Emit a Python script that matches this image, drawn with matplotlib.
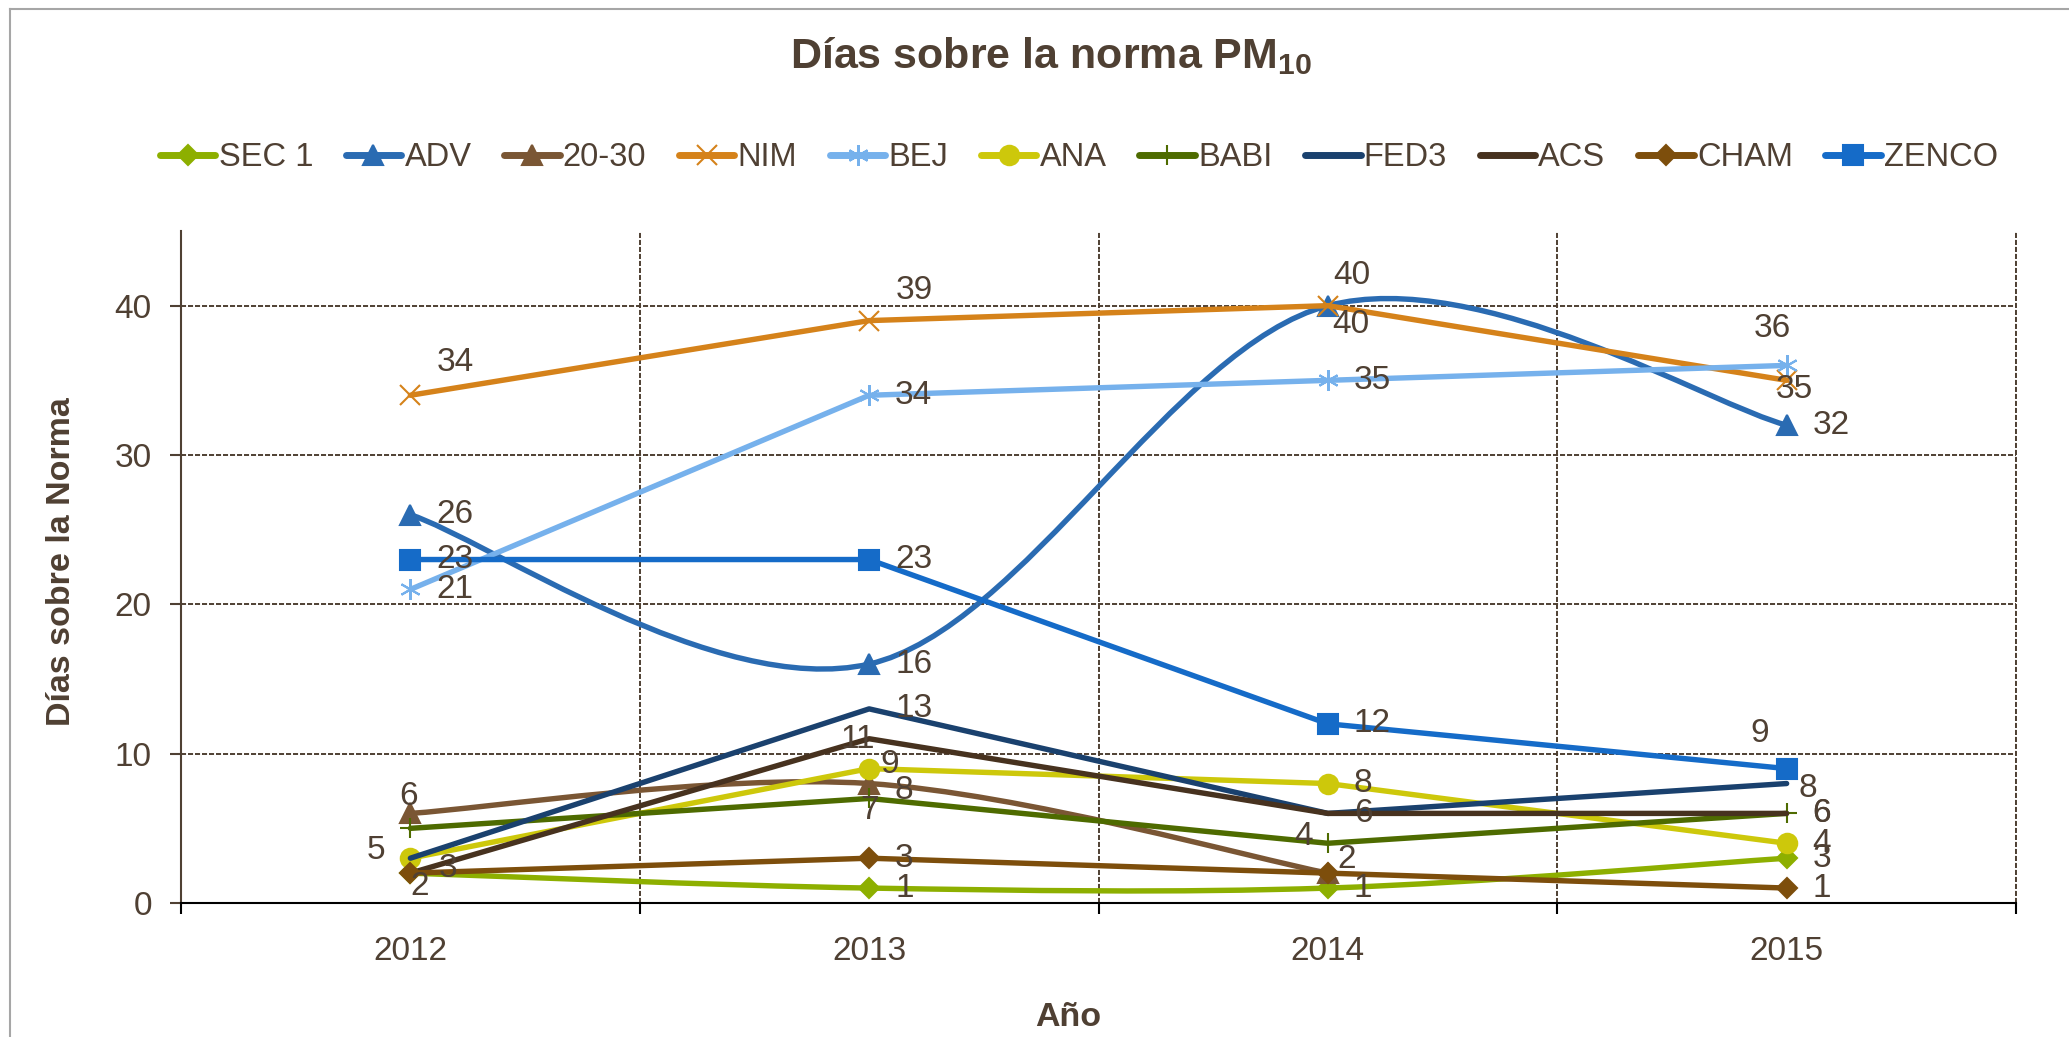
import numpy as np
import matplotlib
matplotlib.use('Agg')
import matplotlib.pyplot as plt
from matplotlib.path import Path
from matplotlib.patches import PathPatch
from matplotlib.lines import Line2D

plt.rcParams['font.family'] = ['Liberation Sans', 'DejaVu Sans']
plt.rcParams['mathtext.fontset'] = 'custom'
plt.rcParams['mathtext.rm'] = 'Liberation Sans'
plt.rcParams['mathtext.bf'] = 'Liberation Sans:bold'

# data
years = ['2012', '2013', '2014', '2015']
series_names = ['SEC 1', 'ADV', '20-30', 'NIM', 'BEJ', 'ANA', 'BABI', 'FED3', 'ACS', 'CHAM', 'ZENCO']
sec1 = [2, 1, 1, 3]
adv = [26, 16, 40, 32]
t2030 = [6, 8, 2, np.nan]
nim = [34, 39, 40, 35]
bej = [21, 34, 35, 36]
ana = [3, 9, 8, 4]
babi = [5, 7, 4, 6]
fed3 = [3, 13, 6, 8]
acs = [2, 11, 6, 6]
cham = [2, 3, 2, 1]
zenco = [23, 23, 12, 9]
values = [sec1, adv, t2030, nim, bej, ana, babi, fed3, acs, cham, zenco]

# style per series: colour, marker, marker size, smoothed line
styles = {
    'SEC 1': ('#8DAF00', 'D', 10, True),
    'ADV':   ('#2A6BB2', '^', 14, True),
    '20-30': ('#7A5634', '^', 14, True),
    'NIM':   ('#D5821A', 'x', 14, False),
    'BEJ':   ('#76B1EC', (6, 2, 0), 15, False),
    'ANA':   ('#CDC80B', 'o', 14, False),
    'BABI':  ('#4E6B00', '+', 14, False),
    'FED3':  ('#1A416E', None, 0, False),
    'ACS':   ('#47321F', None, 0, False),
    'CHAM':  ('#7D4E0C', 'D', 10, False),
    'ZENCO': ('#156BC8', 's', 14, False),
}

# data label placement (pixels, dx, dy up); 'r' = right of point, None = hidden
R = 'r'
label_pos = {
    'SEC 1': [(9, -13), R, R, R],
    'ADV':   [R, R, (23, -19), R],
    '20-30': [(-2, 17), (35, -7), (19, 14), None],
    'NIM':   [(45, 33), (45, 30), (24, 30), (8, -9)],
    'BEJ':   [R, R, R, (-14, 37)],
    'ANA':   [(38, -10), (21, 4), R, R],
    'BABI':  [(-34, -22), (0, -12), (-24, 7), R],
    'FED3':  [None, R, None, (21, -5)],
    'ACS':   [None, (-11, -1), R, R],
    'CHAM':  [None, R, None, R],
    'ZENCO': [R, R, R, (-27, 35)],
}

txt = '#4F4033'
dash = (0, (2.6, 1.0))
fig = plt.figure(figsize=(20.69, 10.37), dpi=100)
ax = fig.add_axes([181/2069, 1-903/1037, (2016-181)/2069, (903-231)/1037])


def smooth_path(x, y):
    # bezier through the points, same idea as the spreadsheet "smoothed line"
    pts = np.column_stack([x, y])
    n = len(pts)
    verts = [pts[0]]
    codes = [Path.MOVETO]
    for i in range(n - 1):
        p0 = pts[i - 1] if i > 0 else pts[i]
        p3 = pts[i + 2] if i + 2 < n else pts[i + 1]
        c1 = pts[i] + (pts[i + 1] - p0) / 6
        c2 = pts[i + 1] - (p3 - pts[i]) / 6
        verts += [c1, c2, pts[i + 1]]
        codes += [Path.CURVE4] * 3
    return Path(verts, codes)


x = np.arange(len(years))
handles = []
for k, (name, vals) in enumerate(zip(series_names, values)):
    col, mk, ms, smooth = styles[name]
    v = np.array(vals, dtype=float)
    ok = ~np.isnan(v)
    z = 3 + k * 0.1
    if smooth:
        ax.add_patch(PathPatch(smooth_path(x[ok], v[ok]), fill=False, edgecolor=col,
                               lw=3.9, zorder=z, capstyle='round', joinstyle='round'))
        ax.plot(x[ok], v[ok], ls='none', marker=mk, ms=ms, color=col, mew=1.5, zorder=z)
    else:
        ax.plot(x[ok], v[ok], ls='-', lw=3.9, marker=mk, ms=ms, color=col, mew=1.5,
                zorder=z, solid_capstyle='round')
    handles.append(Line2D([], [], color=col, lw=5, marker=mk, ms=ms, mew=1.5,
                          solid_capstyle='round', label=name))

    for i, val in enumerate(v):
        pos = label_pos[name][i]
        if pos is None or np.isnan(val):
            continue
        if pos == R:
            dx, dy, ha = 26, 0, 'left'
        else:
            dx, dy, ha = pos[0], pos[1], 'center'
        ax.annotate(f'{int(val)}', (i, val), xytext=(dx, dy), textcoords='offset pixels',
                    ha=ha, va='center', fontsize=24, color=txt, zorder=10)

ax.set_xlim(-0.5, 3.5)
ax.set_ylim(0, 45)
ax.set_xticks(x)
ax.set_xticklabels(years)
ax.set_xticks(np.arange(-0.5, 3.6, 1), minor=True)
ax.set_yticks([0, 10, 20, 30, 40])
ax.tick_params(axis='x', which='major', length=0, pad=24, labelsize=24, labelcolor=txt)
ax.tick_params(axis='x', which='minor', length=8, width=1.5, color='black', direction='out')
ax.tick_params(axis='y', length=8, width=1.5, color=txt, pad=13, labelsize=24, labelcolor=txt)
ax.grid(axis='x', which='minor', ls=dash, color=txt, lw=1.4)
ax.grid(axis='y', which='major', ls=dash, color=txt, lw=1.4)
ax.grid(axis='x', which='major', visible=False)
ax.axvline(3.5, ls=dash, color=txt, lw=1.4, clip_on=False, zorder=1)
for s in ['top', 'right']:
    ax.spines[s].set_visible(False)
ax.spines['left'].set_color(txt)
ax.spines['left'].set_linewidth(1.5)
ax.spines['bottom'].set_color('black')
ax.spines['bottom'].set_linewidth(1.5)
ax.spines['bottom'].set_zorder(20)

fig.text(1051/2069, 1-68/1037, r'Días sobre la norma PM$_{\mathbf{10}}$', ha='center',
         va='baseline', fontsize=31, fontweight='bold', color=txt)
fig.text(62/2069, 1-562/1037, 'Días sobre la Norma', rotation=90, ha='center', va='center',
         fontsize=24.5, fontweight='bold', color=txt)
fig.text(1068/2069, 1-1018/1037, 'Año', ha='center', va='center', fontsize=24.5,
         fontweight='bold', color=txt)

fig.legend(handles=handles, loc='center', bbox_to_anchor=(1079/2069, 1-158/1037), ncol=11,
           frameon=False, fontsize=23.5, handlelength=1.7, handletextpad=0.1,
           columnspacing=1.0, numpoints=1, labelcolor=txt)

# outer chart border (left and top only visible)
fig.add_artist(Line2D([10/2069, 10/2069], [0, 1-9/1037], transform=fig.transFigure,
                      color='#A6A6A6', lw=1.5))
fig.add_artist(Line2D([10/2069, 1], [1-9/1037, 1-9/1037], transform=fig.transFigure,
                      color='#A6A6A6', lw=1.5))

fig.savefig('out.png', dpi=100)
